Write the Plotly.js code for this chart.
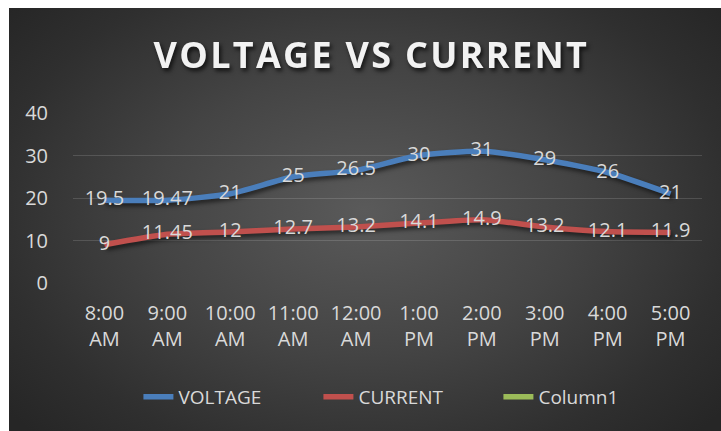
<!DOCTYPE html>
<html>
<head>
<meta charset="utf-8">
<script src="https://cdn.plot.ly/plotly-3.0.1.min.js"></script>
<style>
  html, body { margin: 0; padding: 0; background: #ffffff; }
  #wrap { position: relative; width: 721px; height: 431px; overflow: hidden; background: #ffffff; }
  #bg { position: absolute; left: 9px; top: 8px; width: 712px; height: 423px;
        background: radial-gradient(ellipse 65% 75% at 50% 48%, #5a5a5a 0%, #444444 45%, #2f2f2f 80%, #262626 100%); }
  #chart { position: absolute; left: 0; top: 0; width: 721px; height: 431px; }
  #chart .scatterlayer .js-line { filter: drop-shadow(2px 3px 2px rgba(0,0,0,0.55)); }
  #chart .gtitle { filter: drop-shadow(2px 3px 2px rgba(0,0,0,0.7)); letter-spacing: 2.3px; }
</style>
</head>
<body>
<div id="wrap"><div id="bg"></div><div id="chart"></div></div>
<script>
const categories = ['8:00 AM', '9:00 AM', '10:00 AM', '11:00 AM', '12:00 AM', '1:00 PM', '2:00 PM', '3:00 PM', '4:00 PM', '5:00 PM'];
const voltage = [19.5, 19.47, 21, 25, 26.5, 30, 31, 29, 26, 21];
const current = [9, 11.45, 12, 12.7, 13.2, 14.1, 14.9, 13.2, 12.1, 11.9];
const column1 = [null, null, null, null, null, null, null, null, null, null];
const yTicks = [0, 10, 20, 30, 40];
const tickLabels = categories.map(c => c.replace(' ', '<br>'));

const labelFont = { family: 'Open Sans, sans-serif', size: 20, color: '#d9d9d9' };

const traces = [
  { name: 'VOLTAGE', x: categories, y: voltage, type: 'scatter', mode: 'lines+text',
    line: { color: '#4a7ebb', width: 5.5, shape: 'spline', smoothing: 0.6 },
    text: voltage.map(String), textposition: 'middle center', textfont: labelFont,
    cliponaxis: false },
  { name: 'CURRENT', x: categories, y: current, type: 'scatter', mode: 'lines+text',
    line: { color: '#c0504d', width: 5.5, shape: 'spline', smoothing: 0.6 },
    text: current.map(String), textposition: 'middle center', textfont: labelFont,
    cliponaxis: false },
  { name: 'Column1', x: categories, y: column1, type: 'scatter', mode: 'lines',
    line: { color: '#9bbb59', width: 5.5 } }
];

const layout = {
  width: 721, height: 431,
  paper_bgcolor: 'rgba(0,0,0,0)', plot_bgcolor: 'rgba(0,0,0,0)',
  margin: { l: 72.5, r: 18.5, t: 113, b: 148, autoexpand: false },
  title: { text: 'VOLTAGE VS CURRENT', x: 0.515, xref: 'container', xanchor: 'center',
           y: 0.871, yref: 'container', yanchor: 'middle',
           font: { family: 'Open Sans, sans-serif', size: 36, color: '#f2f2f2', weight: 'bold' } },
  xaxis: { type: 'category', tickmode: 'array', tickvals: categories, ticktext: tickLabels,
           range: [-0.5, 9.5], showgrid: false, zeroline: false, showline: false, ticks: '',
           tickfont: { family: 'Open Sans, sans-serif', size: 20, color: '#d9d9d9' },
           ticklabelstandoff: 16, fixedrange: true, automargin: false },
  yaxis: { range: [0, 40], tickmode: 'array', tickvals: yTicks, ticktext: yTicks.map(String),
           showgrid: true, gridcolor: 'rgba(255,255,255,0.14)', gridwidth: 1,
           zeroline: false, showline: false, ticks: 'outside', ticklen: 20, tickcolor: 'rgba(0,0,0,0)',
           tickfont: { family: 'Open Sans, sans-serif', size: 20, color: '#d9d9d9' },
           fixedrange: true, automargin: false },
  showlegend: true,
  legend: { orientation: 'h', x: 0.104, xanchor: 'left', y: -0.67, yanchor: 'middle',
            entrywidth: 135, entrywidthmode: 'pixels', bgcolor: 'rgba(0,0,0,0)',
            font: { family: 'Open Sans, sans-serif', size: 19, color: '#d9d9d9' } }
};

Plotly.newPlot('chart', traces, layout, { staticPlot: true, displayModeBar: false });
</script>
</body>
</html>
